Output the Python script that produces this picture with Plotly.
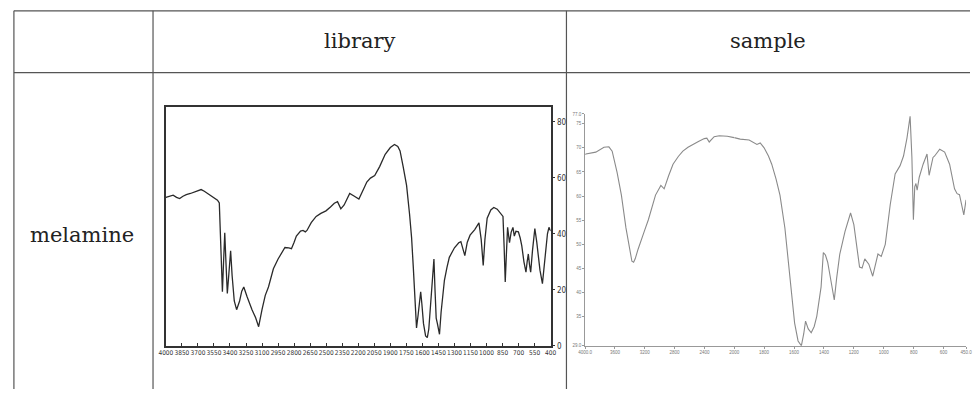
import plotly.graph_objects as go

# ---------------- data ----------------
# library spectrum (wavenumber cm-1, %T)
lib_wn = [4000, 3960, 3932, 3900, 3871, 3840, 3809, 3770, 3732, 3700, 3670, 3640, 3609, 3570, 3540, 3517,
          3500, 3490, 3480, 3471, 3460, 3449, 3438, 3425, 3410, 3394, 3380, 3360, 3338, 3310, 3290, 3271,
          3240, 3210, 3194, 3160, 3132, 3100, 3070, 3040, 2994, 2950, 2900, 2886, 2850, 2825, 2800, 2779,
          2740, 2717, 2695, 2680, 2640, 2594, 2550, 2502, 2460, 2424, 2394, 2375, 2363, 2332, 2300, 2280,
          2240, 2194, 2150, 2120, 2086, 2046, 2000, 1948, 1900, 1861, 1830, 1809, 1780, 1748, 1720, 1701,
          1685, 1670, 1660, 1655, 1640, 1625, 1616, 1605, 1590, 1570, 1554, 1540, 1520, 1505, 1492, 1482,
          1471, 1460, 1448, 1440, 1425, 1410, 1394, 1370, 1348, 1300, 1260, 1240, 1220, 1203, 1180, 1154,
          1110, 1071, 1050, 1031, 1015, 994, 960, 932, 900, 871, 846, 835, 825, 815, 803, 785,
          770, 753, 740, 725, 702, 685, 670, 650, 631, 620, 609, 598, 587, 570, 548, 530,
          517, 500, 477, 455, 430, 416, 400]
lib_t = [53.0, 53.6, 53.8, 53.0, 52.6, 53.4, 54.0, 54.4, 54.9, 55.3, 55.8, 55.2, 54.4, 53.5, 52.7, 52.0,
         51.0, 40.0, 25.0, 19.3, 30.0, 40.4, 30.0, 18.7, 26.0, 33.9, 25.0, 16.0, 12.9, 16.0, 19.5, 21.0,
         17.5, 14.0, 12.9, 10.0, 6.8, 13.0, 18.0, 21.0, 27.5, 31.0, 34.5, 35.1, 35.0, 34.7, 37.0, 39.2,
         41.0, 41.2, 40.7, 41.2, 44.0, 46.2, 47.3, 48.2, 49.6, 50.9, 51.5, 50.0, 48.9, 50.3, 53.0, 54.4,
         53.5, 52.4, 56.0, 58.5, 59.9, 60.8, 64.0, 68.4, 70.8, 71.9, 71.2, 69.6, 64.0, 57.3, 47.0, 38.6,
         28.0, 16.0, 9.0, 6.4, 11.0, 17.0, 19.3, 15.0, 8.0, 3.5, 2.9, 6.0, 18.0, 27.0, 31.0, 20.0,
         9.9, 8.0, 5.0, 4.1, 12.0, 18.0, 23.4, 28.0, 31.6, 35.0, 36.8, 37.2, 34.0, 32.2, 37.0, 39.5,
         41.5, 43.9, 38.0, 28.7, 38.0, 45.6, 48.5, 49.4, 48.8, 47.4, 46.2, 35.0, 22.8, 32.0, 42.3, 36.8,
         40.5, 42.3, 39.2, 40.9, 40.7, 38.5, 35.7, 30.0, 26.3, 30.0, 32.8, 29.0, 26.3, 34.0, 41.9, 37.0,
         31.6, 27.0, 22.2, 31.0, 40.0, 42.3, 41.0]

# sample spectrum (wavenumber cm-1, %T)
smp_wn = [4000, 3991, 3858, 3748, 3682, 3638, 3572, 3514, 3453, 3400, 3373, 3350, 3329, 3290, 3249, 3200,
          3152, 3100, 3056, 2984, 2960, 2940, 2880, 2821, 2750, 2689, 2620, 2556, 2480, 2401, 2367, 2335,
          2300, 2269, 2200, 2150, 2093, 2000, 1960, 1900, 1848, 1826, 1800, 1771, 1749, 1720, 1694, 1661,
          1628, 1596, 1573, 1551, 1535, 1523, 1505, 1485, 1465, 1448, 1419, 1404, 1390, 1375, 1350, 1331,
          1315, 1294, 1259, 1222, 1200, 1180, 1162, 1145, 1127, 1100, 1074, 1039, 1017, 990, 957, 924,
          891, 868, 845, 824, 812, 802, 793, 785, 777, 763, 737, 711, 697, 671, 660, 626,
          593, 560, 527, 510, 494, 465, 450]
smp_t = [68.6, 68.7, 69.1, 70.1, 70.2, 69.3, 64.9, 60.2, 53.4, 48.5, 46.5, 46.3, 47.0, 49.0, 51.0, 53.0,
         55.1, 57.8, 60.2, 62.2, 61.8, 61.5, 64.2, 66.6, 68.2, 69.3, 70.1, 70.7, 71.3, 71.9, 72.0, 71.2,
         71.9, 72.3, 72.5, 72.5, 72.4, 72.1, 71.8, 71.6, 70.7, 71.0, 70.0, 68.3, 66.6, 63.5, 60.2, 53.4,
         42.6, 33.7, 30.0, 29.0, 31.5, 34.1, 32.5, 31.7, 33.0, 35.1, 41.2, 48.3, 47.8, 46.3, 41.9, 38.5,
         43.0, 48.0, 52.7, 56.5, 54.1, 49.5, 45.3, 45.1, 47.0, 45.9, 43.4, 48.0, 47.5, 50.0, 58.2, 64.6,
         66.3, 68.3, 72.0, 76.5, 68.0, 55.1, 61.9, 62.6, 61.2, 63.9, 66.6, 68.7, 64.3, 68.0, 68.3, 69.7,
         69.1, 66.6, 61.5, 60.5, 60.3, 56.1, 59.2]

lib_xticks = list(range(4000, 399, -150))
lib_yticks = [0, 20, 40, 60, 80]
smp_xticks_hi = [4000, 3600, 3200, 2800, 2400]
smp_xticks_hi_text = ["4000.0", "3600", "3200", "2800", "2400"]
smp_xticks_lo = [2000, 1800, 1600, 1400, 1200, 1000, 800, 600, 450]
smp_xticks_lo_text = ["2000", "1800", "1600", "1400", "1200", "1000", "800", "600", "450.0"]
smp_yticks = [29, 35, 40, 45, 50, 55, 60, 65, 70, 75, 77]
smp_yticks_text = ["29.0", "35", "40", "45", "50", "55", "60", "65", "70", "75", "77.0"]

header_cols = ["library", "sample"]
row_label = "melamine"

# ---------------- layout helpers ----------------
W, H = 976, 394
def fx(p): return p / W
def fy(p): return 1 - p / H

hi_wn = [w for w in smp_wn if w >= 2000]
hi_t = [t for w, t in zip(smp_wn, smp_t) if w >= 2000]
lo_wn = [w for w in smp_wn if w <= 2000]
lo_t = [t for w, t in zip(smp_wn, smp_t) if w <= 2000]

fig = go.Figure()
fig.add_trace(go.Scatter(x=lib_wn, y=lib_t, mode="lines", xaxis="x", yaxis="y",
                         line=dict(color="#2a2a2a", width=1.3), showlegend=False))
fig.add_trace(go.Scatter(x=hi_wn, y=hi_t, mode="lines", xaxis="x2", yaxis="y2",
                         line=dict(color="#8a8a8a", width=1.1), showlegend=False))
fig.add_trace(go.Scatter(x=lo_wn, y=lo_t, mode="lines", xaxis="x3", yaxis="y2",
                         line=dict(color="#8a8a8a", width=1.1), showlegend=False))

narrow = "DejaVu Sans Condensed, Liberation Sans Narrow, Arial Narrow, Liberation Sans"
tickfont_lib = dict(family=narrow, size=6.5, color="#333")
tickfont_smp = dict(family="Liberation Sans", size=4.5, color="#777")

line_col = "#555555"
shapes = []
# table grid
shapes.append(dict(type="line", xref="paper", yref="paper", x0=fx(7), x1=1, y0=fy(9), y1=fy(9),
                   line=dict(color=line_col, width=1.2)))
shapes.append(dict(type="line", xref="paper", yref="paper", x0=fx(7), x1=1, y0=fy(72), y1=fy(72),
                   line=dict(color=line_col, width=1.2)))
for xv in (7, 148, 567):
    shapes.append(dict(type="line", xref="paper", yref="paper", x0=fx(xv), x1=fx(xv), y0=fy(9), y1=0,
                       line=dict(color=line_col, width=1.2)))

serif = dict(family="DejaVu Serif, Liberation Serif, serif", size=21, color="#222")
annotations = [
    dict(text=header_cols[0], x=fx(357.5), y=fy(40), xref="paper", yref="paper", showarrow=False,
         font=serif, xanchor="center", yanchor="middle"),
    dict(text=header_cols[1], x=fx(771.5), y=fy(40), xref="paper", yref="paper", showarrow=False,
         font=serif, xanchor="center", yanchor="middle"),
    dict(text=row_label, x=fx(76), y=fy(237), xref="paper", yref="paper", showarrow=False,
         font=serif, xanchor="center", yanchor="middle"),
]

fig.update_layout(
    width=W, height=H, margin=dict(l=0, r=0, t=0, b=0),
    paper_bgcolor="white", plot_bgcolor="white",
    shapes=shapes, annotations=annotations, showlegend=False,
    xaxis=dict(domain=[fx(161), fx(551)], range=[4000, 400], anchor="y",
               showline=True, mirror=True, linecolor="#333", linewidth=1.5,
               tickvals=lib_xticks, ticks="inside", ticklen=3, tickcolor="#333",
               tickangle=0, tickfont=tickfont_lib, showgrid=False, zeroline=False),
    yaxis=dict(domain=[fy(350), fy(107)], range=[0, 85.26], anchor="x", side="right",
               showline=True, mirror=True, linecolor="#333", linewidth=1.5,
               tickvals=lib_yticks, ticks="outside", ticklen=3, tickcolor="#333",
               tickfont=dict(family=narrow, size=8, color="#333"),
               showgrid=False, zeroline=False),
    xaxis2=dict(domain=[fx(586), fx(737)], range=[4000, 2000], anchor="y2",
                showline=True, linecolor="#999", linewidth=1,
                tickvals=smp_xticks_hi, ticktext=smp_xticks_hi_text, ticks="outside", ticklen=2,
                tickcolor="#999", tickangle=0, tickfont=tickfont_smp, showgrid=False, zeroline=False),
    xaxis3=dict(domain=[fx(737), fx(972)], range=[2000, 450], anchor="y2",
                showline=True, linecolor="#999", linewidth=1,
                tickvals=smp_xticks_lo, ticktext=smp_xticks_lo_text, ticks="outside", ticklen=2,
                tickcolor="#999", tickangle=0, tickfont=tickfont_smp, showgrid=False, zeroline=False),
    yaxis2=dict(domain=[fy(350), fy(114)], range=[29, 77], anchor="x2",
                showline=True, linecolor="#999", linewidth=1,
                tickvals=smp_yticks, ticktext=smp_yticks_text, ticks="outside", ticklen=2,
                tickcolor="#999", tickfont=tickfont_smp, showgrid=False, zeroline=False),
)

fig.write_html(
    "out.html",
    config={"displayModeBar": False},
    post_script="document.body.style.margin='0';document.body.style.padding='0';"
                "document.documentElement.style.overflow='hidden';",
)
